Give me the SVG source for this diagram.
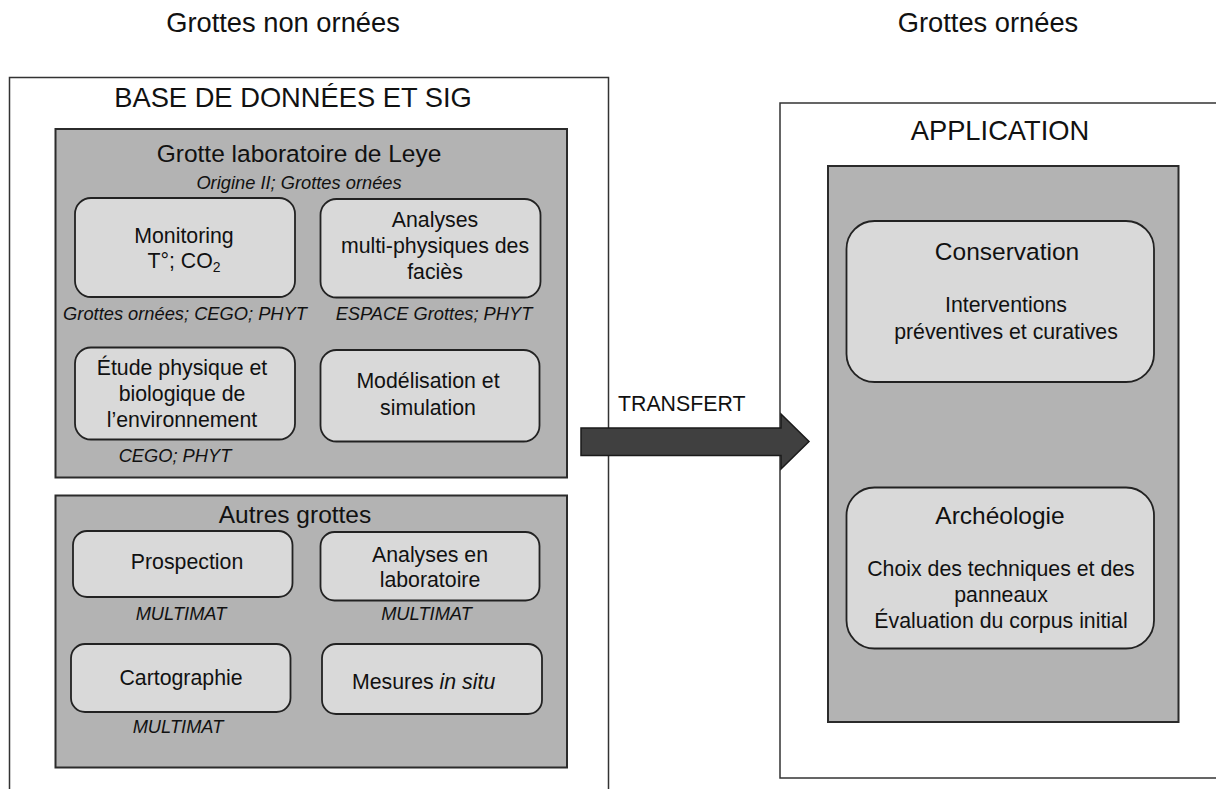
<svg xmlns="http://www.w3.org/2000/svg" width="1216" height="789" viewBox="0 0 1216 789">
<style>
text{font-family:"Liberation Sans",Arial,sans-serif;fill:#111;}
.big{font-size:27.3px;}
.hd{font-size:24.5px;}
.bd{font-size:21.3px;}
.it{font-size:18.3px;font-style:italic;}
.m{text-anchor:middle;}
.outer{fill:#fff;stroke:#333;stroke-width:1.5;}
.grey{fill:#b3b3b3;stroke:#2b2b2b;stroke-width:2;}
.card{fill:#d9d9d9;stroke:#222;stroke-width:1.8;}
</style>
<rect width="1216" height="789" fill="#fff"/>
<text class="big m" x="283" y="32">Grottes non ornées</text>
<text class="big m" x="988" y="32">Grottes ornées</text>

<g id="base">
<rect class="outer" x="9.5" y="77.5" width="599" height="740"/>
<text class="big m" x="293" y="107">BASE DE DONNÉES ET SIG</text>
</g>

<g id="leye">
<rect class="grey" x="55.5" y="129" width="511.5" height="348.5"/>
<text class="hd m" x="299" y="162">Grotte laboratoire de Leye</text>
<text class="it m" x="299" y="188.5">Origine II; Grottes ornées</text>
</g>

<g id="monitoring">
<rect class="card" x="75" y="198" width="220" height="99" rx="16"/>
<text class="bd m" x="184" y="243">Monitoring</text>
<text class="bd m" x="184" y="268">T°; CO<tspan font-size="14" dy="4">2</tspan></text>
<text class="it m" x="185" y="320">Grottes ornées; CEGO; PHYT</text>
</g>

<g id="analyses">
<rect class="card" x="320.5" y="199" width="220" height="98.5" rx="16"/>
<text class="bd m" x="435" y="227">Analyses</text>
<text class="bd m" x="435" y="253">multi-physiques des</text>
<text class="bd m" x="435" y="279">faciès</text>
<text class="it m" x="434" y="320">ESPACE Grottes; PHYT</text>
</g>

<g id="etude">
<rect class="card" x="75" y="347.5" width="220" height="92" rx="16"/>
<text class="bd m" x="182" y="375">Étude physique et</text>
<text class="bd m" x="182" y="401">biologique de</text>
<text class="bd m" x="182" y="427">l’environnement</text>
<text class="it m" x="175" y="462">CEGO; PHYT</text>
</g>

<g id="modelisation">
<rect class="card" x="320.5" y="350" width="219" height="91.5" rx="16"/>
<text class="bd m" x="428" y="388">Modélisation et</text>
<text class="bd m" x="428" y="415">simulation</text>
</g>

<g id="autres">
<rect class="grey" x="55.5" y="495.5" width="511.5" height="272"/>
<text class="hd m" x="295" y="523">Autres grottes</text>
</g>

<g id="prospection">
<rect class="card" x="73" y="531" width="219.5" height="66" rx="14"/>
<text class="bd m" x="187" y="569">Prospection</text>
<text class="it m" x="181" y="620">MULTIMAT</text>
</g>

<g id="analyses-labo">
<rect class="card" x="320.5" y="532" width="219" height="68.5" rx="14"/>
<text class="bd m" x="430" y="562">Analyses en</text>
<text class="bd m" x="430" y="587">laboratoire</text>
<text class="it m" x="426.5" y="620">MULTIMAT</text>
</g>

<g id="cartographie">
<rect class="card" x="71" y="644" width="219.5" height="68" rx="14"/>
<text class="bd m" x="181" y="685">Cartographie</text>
<text class="it m" x="178" y="733">MULTIMAT</text>
</g>

<g id="mesures">
<rect class="card" x="322" y="644" width="220" height="70" rx="14"/>
<text class="bd" x="352" y="689">Mesures <tspan font-style="italic">in situ</tspan></text>
</g>

<g id="application">
<rect class="outer" x="780" y="103" width="440" height="675"/>
<text class="big m" x="1000" y="140">APPLICATION</text>
<rect class="grey" x="828" y="166" width="350.5" height="556"/>
</g>

<g id="conservation">
<rect class="card" x="846.5" y="221" width="307.5" height="161" rx="28"/>
<text class="hd m" x="1007" y="260">Conservation</text>
<text class="bd m" x="1006" y="311.5">Interventions</text>
<text class="bd m" x="1006" y="338.5">préventives et curatives</text>
</g>

<g id="archeologie">
<rect class="card" x="846.5" y="487.5" width="307.5" height="161" rx="28"/>
<text class="hd m" x="1000" y="523.5">Archéologie</text>
<text class="bd m" x="1001" y="576">Choix des techniques et des</text>
<text class="bd m" x="1001" y="602">panneaux</text>
<text class="bd m" x="1001" y="628">Évaluation du corpus initial</text>
</g>

<g id="connectors">
<path d="M581,428 L781,428 L781,414 L809,441.5 L781,469 L781,455.5 L581,455.5 Z" fill="#404040" stroke="#1a1a1a" stroke-width="1.5" stroke-linejoin="miter"/>
<text class="bd" x="618" y="411">TRANSFERT</text>
</g>
</svg>
